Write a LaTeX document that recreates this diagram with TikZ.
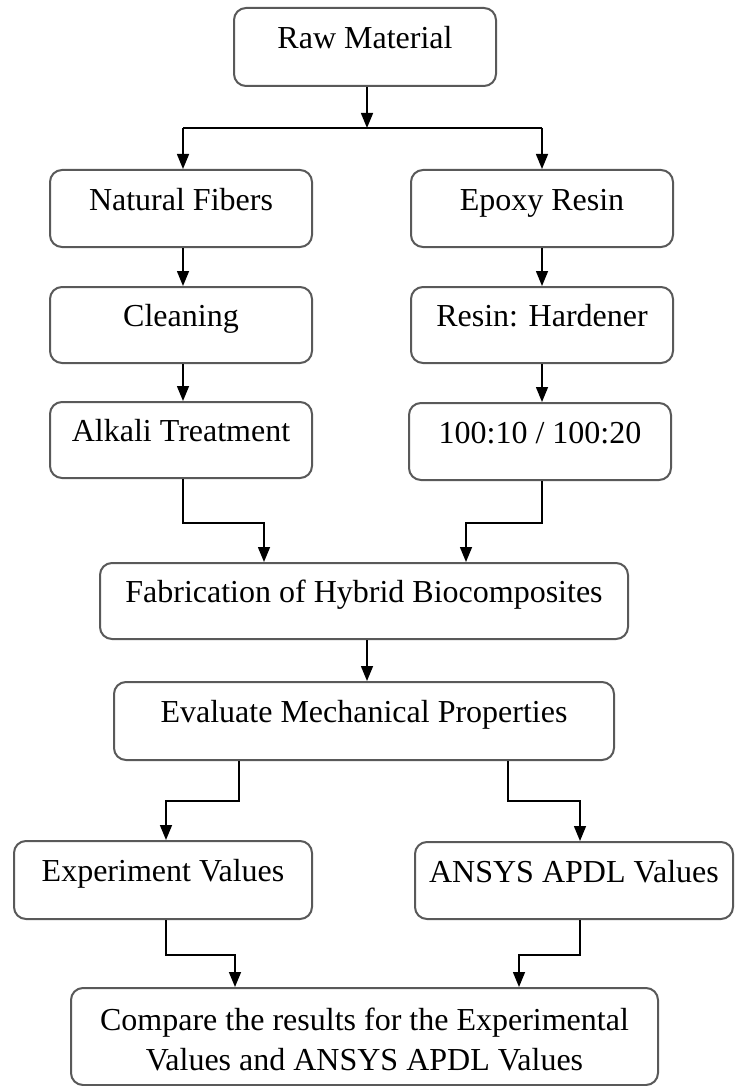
\documentclass[tikz,border=0pt]{standalone}
\usepackage{fontspec}
\setmainfont{Liberation Serif}
\usetikzlibrary{arrows.meta}
\begin{document}
\begin{tikzpicture}[x=1pt,y=-1pt,
  box/.style={draw=black!65, line width=2pt, rounded corners=12pt, fill=white,
    inner sep=0pt, text height=22pt, text depth=19pt,
    font=\fontsize{32}{40}\selectfont},
  arr/.style={draw=black, line width=1.5pt, -{Triangle[length=15pt,width=12pt]}},
  ln/.style={draw=black, line width=1.5pt}]
\useasboundingbox (0,0) rectangle (734,1086);
% boxes
\node[box, minimum width=262pt, minimum height=78pt] (raw) at (365,47) {Raw Material};
\node[box, minimum width=262pt, minimum height=77pt] (nat) at (181,208.5) {Natural Fibers};
\node[box, minimum width=262pt, minimum height=77pt] (epo) at (542,208.5) {Epoxy Resin};
\node[box, minimum width=262pt, minimum height=76pt] (cle) at (181,325) {Cleaning};
\node[box, minimum width=262pt, minimum height=76pt] (res) at (542,325) {Resin: Hardener};
\node[box, minimum width=262pt, minimum height=76pt] (alk) at (181,440) {Alkali Treatment};
\node[box, minimum width=262pt, minimum height=77pt] (hun) at (540,441.5) {100:10 / 100:20};
\node[box, minimum width=528pt, minimum height=76pt] (fab) at (364,601) {Fabrication of Hybrid Biocomposites};
\node[box, minimum width=500pt, minimum height=78pt] (eva) at (364,721) {Evaluate Mechanical Properties};
\node[box, minimum width=298pt, minimum height=78pt] (exp) at (163,880) {Experiment Values};
\node[box, minimum width=318pt, minimum height=77pt] (ans) at (574,880.5) {ANSYS APDL Values};
\node[box, minimum width=587pt, minimum height=97pt, align=center, text height=80pt, text depth=13pt] (cmp) at (364.5,1036.5)
  {Compare the results for the Experimental\\Values and ANSYS APDL Values};
% helper coordinates
\coordinate (j1) at (367,128);
\coordinate (b1L) at (183,128);
\coordinate (b1R) at (542,128);
\coordinate (cL) at (183,0);
\coordinate (cR) at (542,0);
\coordinate (cM) at (367,0);
\coordinate (f1) at (264,523);
\coordinate (f2) at (466,523);
\coordinate (e1) at (239,801);
\coordinate (e1b) at (166,0);
\coordinate (e2) at (508,801);
\coordinate (e2b) at (580,0);
\coordinate (g1) at (166,955);
\coordinate (g1b) at (235,0);
\coordinate (g2) at (580,955);
\coordinate (g2b) at (519,0);
% connectors
\draw[arr] (raw.south -| j1) -- (j1);
\draw[ln] (b1L) -- (b1R);
\draw[arr] (b1L) -- (b1L |- nat.north);
\draw[arr] (b1R) -- (b1R |- epo.north);
\draw[arr] (nat.south -| cL) -- (cle.north -| cL);
\draw[arr] (epo.south -| cR) -- (res.north -| cR);
\draw[arr] (cle.south -| cL) -- (alk.north -| cL);
\draw[arr] (res.south -| cR) -- (hun.north -| cR);
\draw[arr] (alk.south -| cL) |- (f1) -- (f1 |- fab.north);
\draw[arr] (hun.south -| cR) |- (f2) -- (f2 |- fab.north);
\draw[arr] (fab.south -| cM) -- (eva.north -| cM);
\draw[arr] (e1 |- eva.south) -- (e1) -| (e1b |- exp.north);
\draw[arr] (e2 |- eva.south) -- (e2) -| (e2b |- ans.north);
\draw[arr] (g1 |- exp.south) -- (g1) -| (g1b |- cmp.north);
\draw[arr] (g2 |- ans.south) -- (g2) -| (g2b |- cmp.north);
\end{tikzpicture}
\end{document}
